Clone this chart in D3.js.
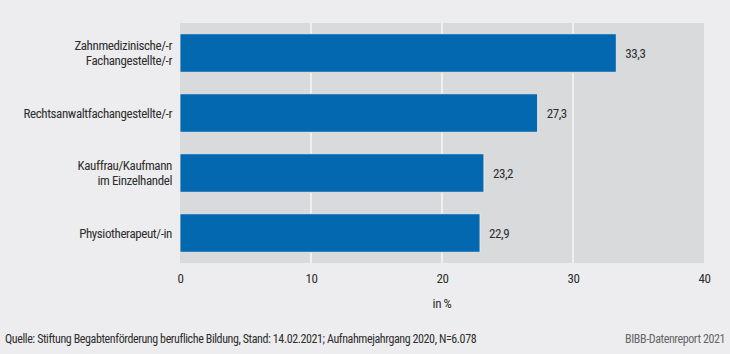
<!DOCTYPE html>
<html lang="de">
<head>
<meta charset="utf-8">
<title>BIBB Datenreport</title>
<script src="https://cdn.jsdelivr.net/npm/d3@7"></script>
<style>
  body { margin: 0; background: #ededef; }
  svg text { font-family: "Liberation Sans Narrow", "Roboto Condensed", "Noto Sans", sans-serif; fill: #2e2e2e; letter-spacing: -0.4px; }
</style>
</head>
<body>
<script>
// data
let categories = [
  ["Zahnmedizinische/-r", "Fachangestellte/-r"],
  ["Rechtsanwaltfachangestellte/-r"],
  ["Kauffrau/Kaufmann", "im Einzelhandel"],
  ["Physiotherapeut/-in"]
];
let values = [33.3, 27.3, 23.2, 22.9];
let xTicks = [0, 10, 20, 30, 40];
let axisTitle = "in %";
let sourceNote = "Quelle: Stiftung Begabtenförderung berufliche Bildung, Stand: 14.02.2021; Aufnahmejahrgang 2020, N=6.078";
let creditNote = "BIBB-Datenreport 2021";

let w = 730;
let h = 354;
let plotLeft = 180, plotRight = 704, plotTop = 23, plotBottom = 263;

let fmt = (v) => v.toFixed(1).replace(".", ",");

let svg = d3.select("body")
  .append("svg")
  .attr("width", w)
  .attr("height", h);

svg.append("rect")
  .attr("width", w)
  .attr("height", h)
  .attr("fill", "#ededef");

let xScale = d3.scaleLinear()
  .domain([0, 40])
  .range([plotLeft, plotRight]);

let yScale = d3.scaleBand()
  .domain(d3.range(values.length))
  .range([plotTop, plotBottom])
  .paddingInner(0.36)
  .paddingOuter(0.18);

// plot area
svg.append("rect")
  .attr("x", plotLeft)
  .attr("y", plotTop)
  .attr("width", plotRight - plotLeft)
  .attr("height", plotBottom - plotTop)
  .attr("fill", "#d9dadc");

// grid lines
svg.selectAll("line.grid")
  .data(xTicks.filter((t) => t > 0 && t < 40))
  .enter()
  .append("line")
  .attr("class", "grid")
  .attr("x1", (d) => xScale(d))
  .attr("x2", (d) => xScale(d))
  .attr("y1", plotTop)
  .attr("y2", plotBottom)
  .attr("stroke", "#fff")
  .attr("stroke-width", 1.2);

// bars
svg.selectAll("rect.bar")
  .data(values)
  .enter()
  .append("rect")
  .attr("class", "bar")
  .attr("x", xScale(0))
  .attr("y", (d, i) => yScale(i))
  .attr("width", (d) => xScale(d) - xScale(0))
  .attr("height", yScale.bandwidth())
  .attr("fill", "#0468b1")
  .attr("stroke", "#f2ebe6")
  .attr("stroke-width", 0.8);

// value labels
svg.selectAll("text.val")
  .data(values)
  .enter()
  .append("text")
  .attr("class", "val")
  .attr("x", (d) => xScale(d) + 9)
  .attr("y", (d, i) => yScale(i) + yScale.bandwidth() / 2)
  .attr("dy", "0.35em")
  .attr("font-size", 13)
  .text(fmt);

// category labels
let cat = svg.selectAll("text.cat")
  .data(categories)
  .enter()
  .append("text")
  .attr("class", "cat")
  .attr("text-anchor", "end")
  .attr("font-size", 13)
  .attr("y", (d, i) => yScale(i) + yScale.bandwidth() / 2);

cat.selectAll("tspan")
  .data((d) => d.map((line, j) => ({ line: line, j: j, n: d.length })))
  .enter()
  .append("tspan")
  .attr("x", plotLeft - 8)
  .attr("dy", (d) => d.j === 0 ? (0.35 - (d.n - 1) * 0.6) + "em" : "1.2em")
  .text((d) => d.line);

// x axis
let xAxis = d3.axisBottom(xScale)
  .tickValues(xTicks)
  .tickSize(0)
  .tickPadding(11);

let gx = svg.append("g")
  .attr("transform", "translate(0," + plotBottom + ")")
  .call(xAxis);
gx.select(".domain").remove();
gx.selectAll("text")
  .attr("font-size", 13);
gx.attr("font-family", null).attr("font-size", null);

svg.append("text")
  .attr("x", xScale(20))
  .attr("y", 308)
  .attr("text-anchor", "middle")
  .attr("font-size", 13)
  .text(axisTitle);

svg.append("text")
  .attr("x", 5)
  .attr("y", 343)
  .attr("font-size", 12)
  .text(sourceNote);

svg.append("text")
  .attr("x", 725)
  .attr("y", 343)
  .attr("text-anchor", "end")
  .attr("font-size", 12)
  .style("fill", "#666")
  .text(creditNote);
</script>
</body>
</html>
